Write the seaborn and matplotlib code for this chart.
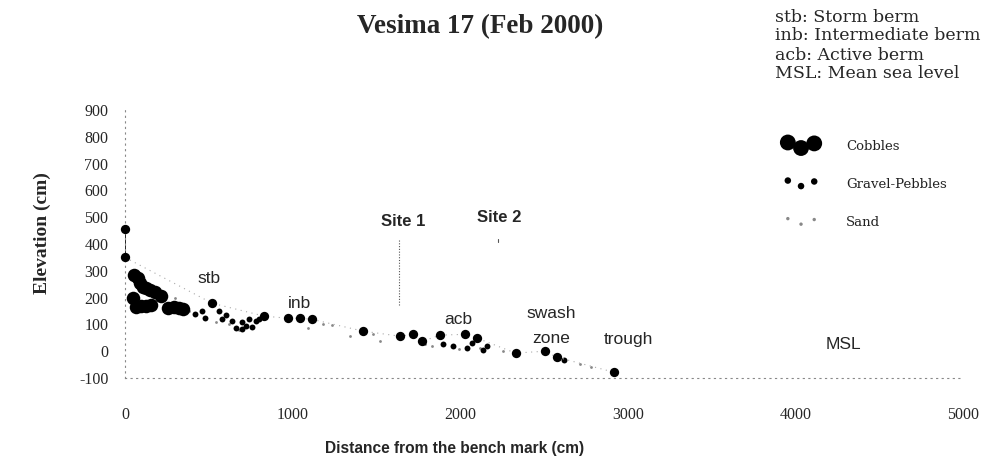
import matplotlib
matplotlib.use("Agg")
import matplotlib.pyplot as plt
import seaborn as sns
import numpy as np

sns.set_style("white")
plt.rcParams['font.family'] = ['Liberation Serif', 'DejaVu Serif']

# ---- data ----
bench_x = [0, 0]
bench_y = [455, 350]

profile_x = [0, 0, 520, 830, 970, 1045, 1115, 1420, 1640, 1720, 1775, 1880, 2030, 2100, 2330, 2505, 2575, 2915]
profile_y = [455, 350, 179, 131, 123, 123, 119, 75, 56, 63, 37, 60, 63, 49, -7, 0, -22, -78]

cobble_x = [55, 75, 90, 105, 125, 150, 180, 215, 45, 65, 95, 125, 155, 255, 290, 325, 345]
cobble_y = [285, 272, 255, 240, 235, 228, 222, 205, 198, 165, 168, 170, 172, 160, 165, 162, 158]

gravel_x = [420, 460, 480, 560, 580, 600, 640, 660, 700, 720, 740, 780, 800, 700, 760,
            1900, 1960, 2040, 2070, 2135, 2160, 2620]
gravel_y = [140, 150, 125, 150, 120, 135, 112, 88, 110, 95, 120, 112, 120, 82, 90,
            26, 19, 11, 30, 4, 20, -32]

sand_x = [300, 380, 540, 620, 680, 1091, 1181, 1234, 1342, 1479, 1520, 1789, 1830, 1990, 2117, 2254, 2713, 2780]
sand_y = [200, 150, 110, 100, 80, 86, 100, 97, 56, 63, 37, 26, 18, 8, 11, 0, -49, -60]

site1_x = [1634, 1634]
site1_y = [414, 168]
site2_x = [2224, 2224]
site2_y = [418, 408]

x_ticks = [0, 1000, 2000, 3000, 4000, 5000]
y_ticks = [-100, 0, 100, 200, 300, 400, 500, 600, 700, 800, 900]

zone_labels = ["stb", "inb", "acb", "swash", "zone", "trough", "MSL"]
zone_x = [501, 1044, 1986, 2546, 2540, 3005, 4287]
zone_y = [272, 179, 119, 142, 48, 45, 26]

site_labels = ["Site 1", "Site 2"]
site_x = [1658, 2230]
site_y = [485, 500]

definitions = ["stb: Storm berm", "inb: Intermediate berm", "acb: Active berm", "MSL: Mean sea level"]
legend_labels = ["Cobbles", "Gravel-Pebbles", "Sand"]

# ---- figure ----
fig = plt.figure(figsize=(9.92, 4.68), dpi=100)
ax = fig.add_axes([125/992, 1-378/468, (963-125)/992, (378-110)/468])

sns.lineplot(x=bench_x, y=bench_y, ax=ax, color='black', lw=1.2, estimator=None, sort=False)
sns.lineplot(x=profile_x[1:], y=profile_y[1:], ax=ax, color='#aaaaaa', lw=0.8,
             ls=(0, (1, 4)), estimator=None, sort=False)
sns.lineplot(x=site1_x, y=site1_y, ax=ax, color='#555555', lw=0.8, ls=(0, (1, 1.5)),
             estimator=None, sort=False)
sns.lineplot(x=site2_x, y=site2_y, ax=ax, color='#555555', lw=0.8,
             estimator=None, sort=False)

sns.scatterplot(x=sand_x, y=sand_y, ax=ax, color='#888888', s=4, linewidth=0, clip_on=False)
sns.scatterplot(x=cobble_x, y=cobble_y, ax=ax, color='black', s=95, linewidth=0, clip_on=False)
sns.scatterplot(x=gravel_x, y=gravel_y, ax=ax, color='black', s=18, linewidth=0, clip_on=False)
sns.scatterplot(x=profile_x, y=profile_y, ax=ax, color='black', s=45, marker='o',
                linewidth=0, clip_on=False, zorder=5)

for lab, xx, yy in zip(zone_labels, zone_x, zone_y):
    ax.text(xx, yy, lab, ha='center', va='center', fontsize=12.5,
            family=['Liberation Sans', 'DejaVu Sans'])
for lab, xx, yy in zip(site_labels, site_x, site_y):
    ax.text(xx, yy, lab, ha='center', va='center', fontsize=12, fontweight='bold',
            family=['Liberation Sans', 'DejaVu Sans'])

ax.set_xlim(0, 5000)
ax.set_ylim(-100, 900)
ax.set_xticks(x_ticks)
ax.set_yticks(y_ticks)
ax.set_xticks(np.arange(0, 5001, 250), minor=True)
ax.set_yticklabels([str(v) for v in y_ticks])
ax.tick_params(axis='both', which='major', labelsize=11.5, length=2, color='#777777')
ax.tick_params(axis='x', which='minor', length=2, color='#777777')
ax.tick_params(axis='x', pad=21)
ax.tick_params(axis='y', pad=12)
ax.tick_params(axis='both', which='both', direction='in')

for side in ['top', 'right']:
    ax.spines[side].set_visible(False)
for side in ['left', 'bottom']:
    ax.spines[side].set_linestyle((0, (1, 4)))
    ax.spines[side].set_color('#888888')
    ax.spines[side].set_linewidth(0.8)

fig.text(455/992, 1-448/468, "Distance from the bench mark (cm)", ha='center', va='center',
         fontsize=11.2, fontweight='bold', family=['Liberation Sans', 'DejaVu Sans'])
fig.text(42/992, 1-233/468, "Elevation (cm)", ha='center', va='center', rotation=90,
         fontsize=14, fontweight='bold')

fig.text(480/992, 1-27/468, "Vesima 17 (Feb 2000)", ha='center', va='center',
         fontsize=19.5, fontweight='bold')

for i, d in enumerate(definitions):
    fig.text(775/992, 1-(17 + 19*i)/468, d, ha='left', va='center', fontsize=12.5,
             family=['DejaVu Serif'])

handles = [
    ax.scatter([], [], s=130, color='black', linewidth=0),
    ax.scatter([], [], s=22, color='black', linewidth=0),
    ax.scatter([], [], s=6, color='#888888', linewidth=0),
]
leg = fig.legend(handles, legend_labels, loc='upper left', bbox_to_anchor=(772/992, 1-128/468),
                 frameon=False, scatterpoints=3, scatteryoffsets=[0.8, 0.2, 0.7],
                 prop={'family': 'DejaVu Serif', 'size': 9.5}, labelspacing=1.9,
                 handlelength=2.6, handletextpad=2.1)
for t in leg.get_texts():
    t.set_color('#222222')

fig.savefig("out.png", dpi=100)
